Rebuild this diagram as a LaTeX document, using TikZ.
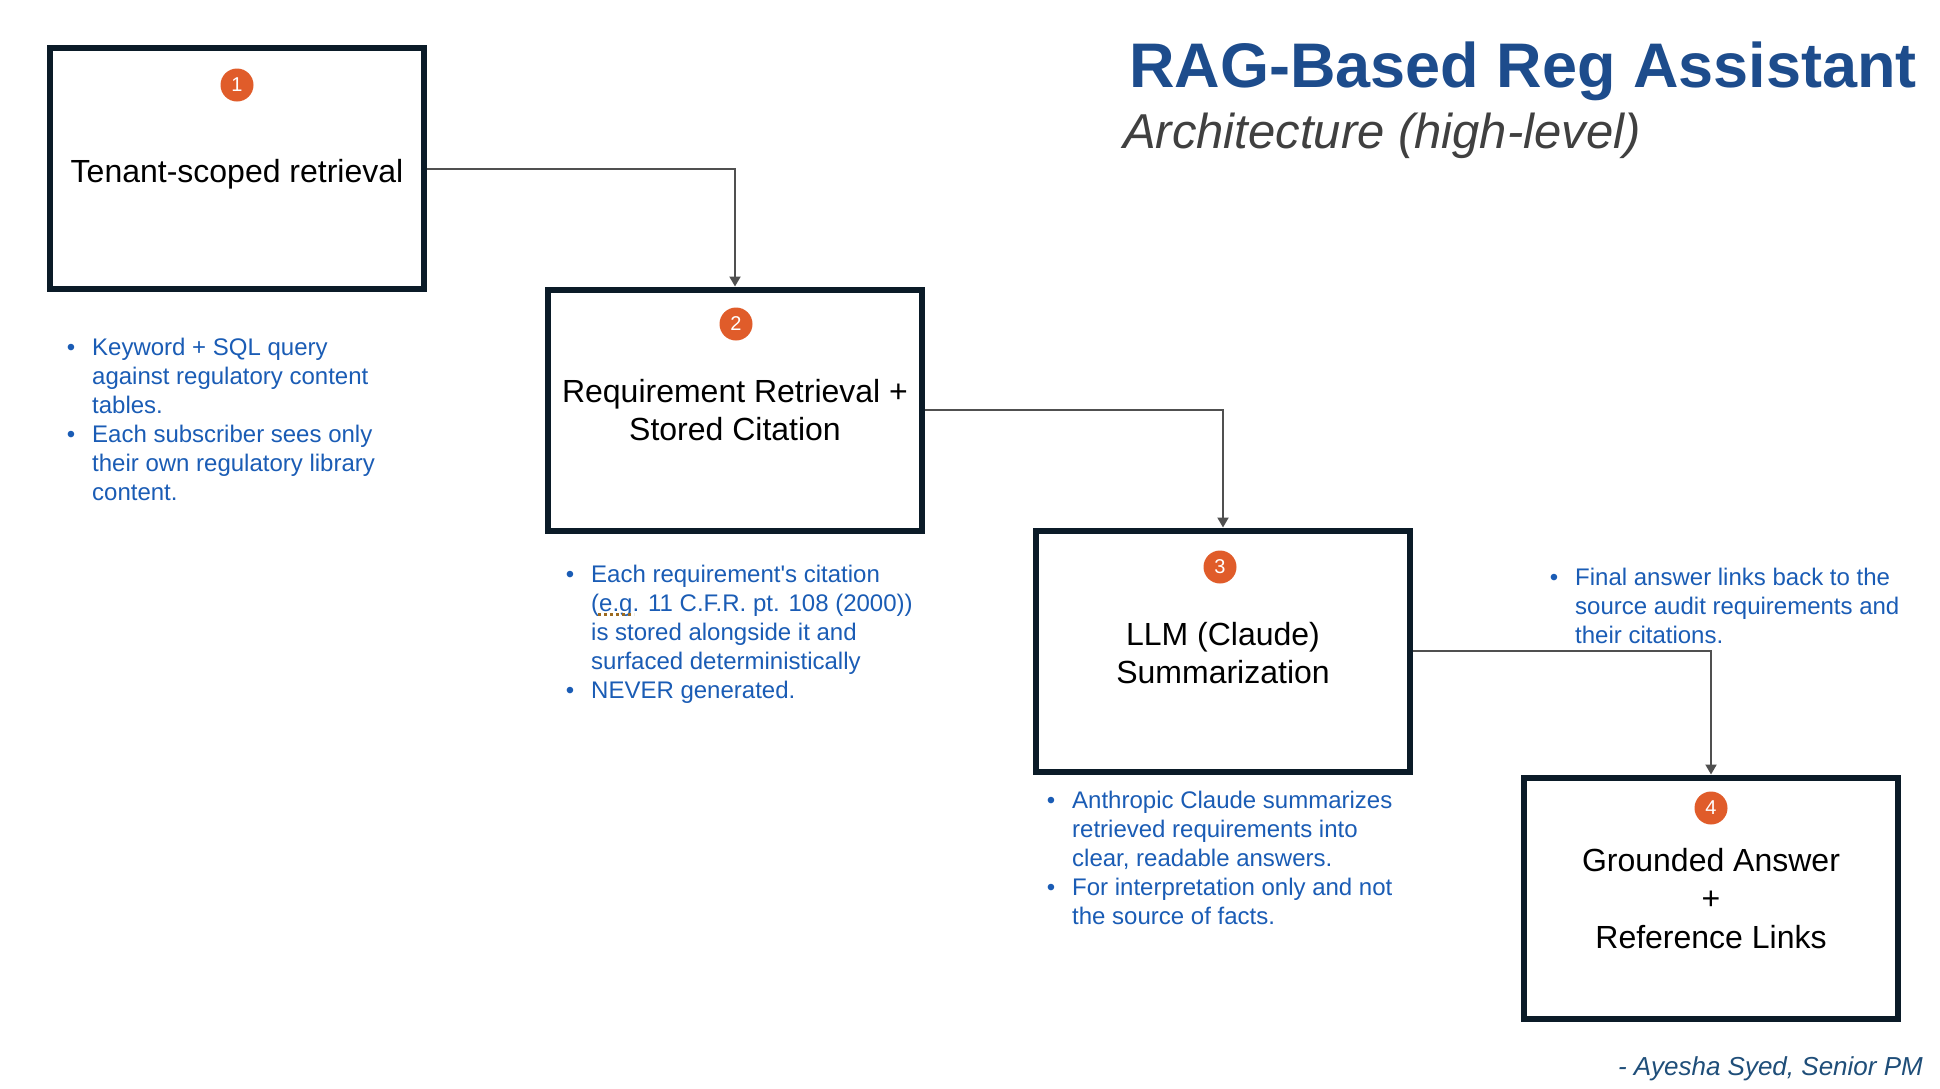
\documentclass[tikz,border=0pt]{standalone}
\usepackage{fontspec}
\setmainfont{Liberation Sans}
\usetikzlibrary{arrows.meta}
\definecolor{boxline}{HTML}{0B1B28}
\definecolor{badgeor}{HTML}{E05C2A}
\definecolor{bulblue}{HTML}{1A5CB5}
\definecolor{titleblue}{HTML}{1D4C8C}
\definecolor{subgray}{HTML}{404040}
\definecolor{authblue}{HTML}{1F4E79}
\definecolor{conngray}{HTML}{505050}
\definecolor{spellbrown}{HTML}{9C6A1F}
\newcommand{\bitem}{\llap{\textbullet\hspace{17pt}}}
\begin{document}
\begin{tikzpicture}[x=1pt,y=-1pt,
  stagebox/.style={draw=boxline, line width=6pt, fill=white, minimum width=374pt, minimum height=241pt, inner sep=0pt},
  badge/.style={circle, fill=badgeor, minimum size=33pt, inner sep=0pt, text=white, font=\fontsize{20}{22}\selectfont},
  boxtext/.style={inner sep=0pt, anchor=base, font=\fontsize{32}{38.5}\selectfont},
  bultext/.style={inner sep=0pt, anchor=base west, text=bulblue, font=\fontsize{24}{29}\selectfont},
  conn/.style={draw=conngray, line width=2pt, -{Triangle[width=11pt,length=10pt]}}
]
\useasboundingbox (0,0) rectangle (1940,1088);
\fill[white] (0,0) rectangle (1940,1088);

% title
\node[inner sep=0pt, anchor=base west, text=titleblue, font=\fontsize{63}{70}\selectfont\bfseries] (title) at (1129,87) {RAG-Based Reg Assistant};
\node[inner sep=0pt, anchor=base west, text=subgray, font=\fontsize{49}{54}\selectfont\itshape] (subtitle) at (1123,148) {Architecture (high-level)};

% boxes
\node[stagebox] (b1) at (237,168.5) {};
\node[stagebox] (b2) at (735,410) {};
\node[stagebox] (b3) at (1223,651) {};
\node[stagebox] (b4) at (1711,898) {};

% badges
\node[badge] (n1) at (237,85) {1};
\node[badge] (n2) at (736,324) {2};
\node[badge] (n3) at (1220,567) {3};
\node[badge] (n4) at (1711,808) {4};

% box texts
\node[boxtext] (b1t) at (237,182) {Tenant-scoped retrieval};
\node[boxtext] (b2t) at (735,402) {\begin{tabular}[t]{@{}c@{}}Requirement Retrieval +\\Stored Citation\end{tabular}};
\node[boxtext] (b3t) at (1223,645) {\begin{tabular}[t]{@{}c@{}}LLM (Claude)\\Summarization\end{tabular}};
\node[boxtext] (b4t) at (1711,871) {\begin{tabular}[t]{@{}c@{}}Grounded Answer\\+\\Reference Links\end{tabular}};

% connectors
\draw[conn] (b1.east) -| (b2.north);
\draw[conn] (b2.east) -| (b3.north);
\draw[conn] (b3.east) -| (b4.north);

% bullet notes
\node[bultext] (t1) at (92,355) {\begin{tabular}[t]{@{}l@{}}\bitem Keyword + SQL query\\against regulatory content\\tables.\\\bitem Each subscriber sees only\\their own regulatory library\\content.\end{tabular}};
\node[bultext] (t2) at (591,582) {\begin{tabular}[t]{@{}l@{}}\bitem Each requirement\textquotesingle s citation\\(e.g. 11 C.F.R. pt. 108 (2000))\\is stored alongside it and\\surfaced deterministically\\\bitem NEVER generated.\end{tabular}};
\node[bultext] (t3) at (1072,808) {\begin{tabular}[t]{@{}l@{}}\bitem Anthropic Claude summarizes\\retrieved requirements into\\clear, readable answers.\\\bitem For interpretation only and not\\the source of facts.\end{tabular}};
\node[bultext] (t4) at (1575,585) {\begin{tabular}[t]{@{}l@{}}\bitem Final answer links back to the\\source audit requirements and\\their citations.\end{tabular}};

% spell-check mark under e.g.
\draw[spellbrown, line width=3pt, dash pattern=on 3pt off 3pt] (598,614) -- (634,614);

% author
\node[inner sep=0pt, anchor=base east, text=authblue, font=\fontsize{26}{30}\selectfont\itshape] (author) at (1923,1075) {- Ayesha Syed, Senior PM};
\end{tikzpicture}
\end{document}
